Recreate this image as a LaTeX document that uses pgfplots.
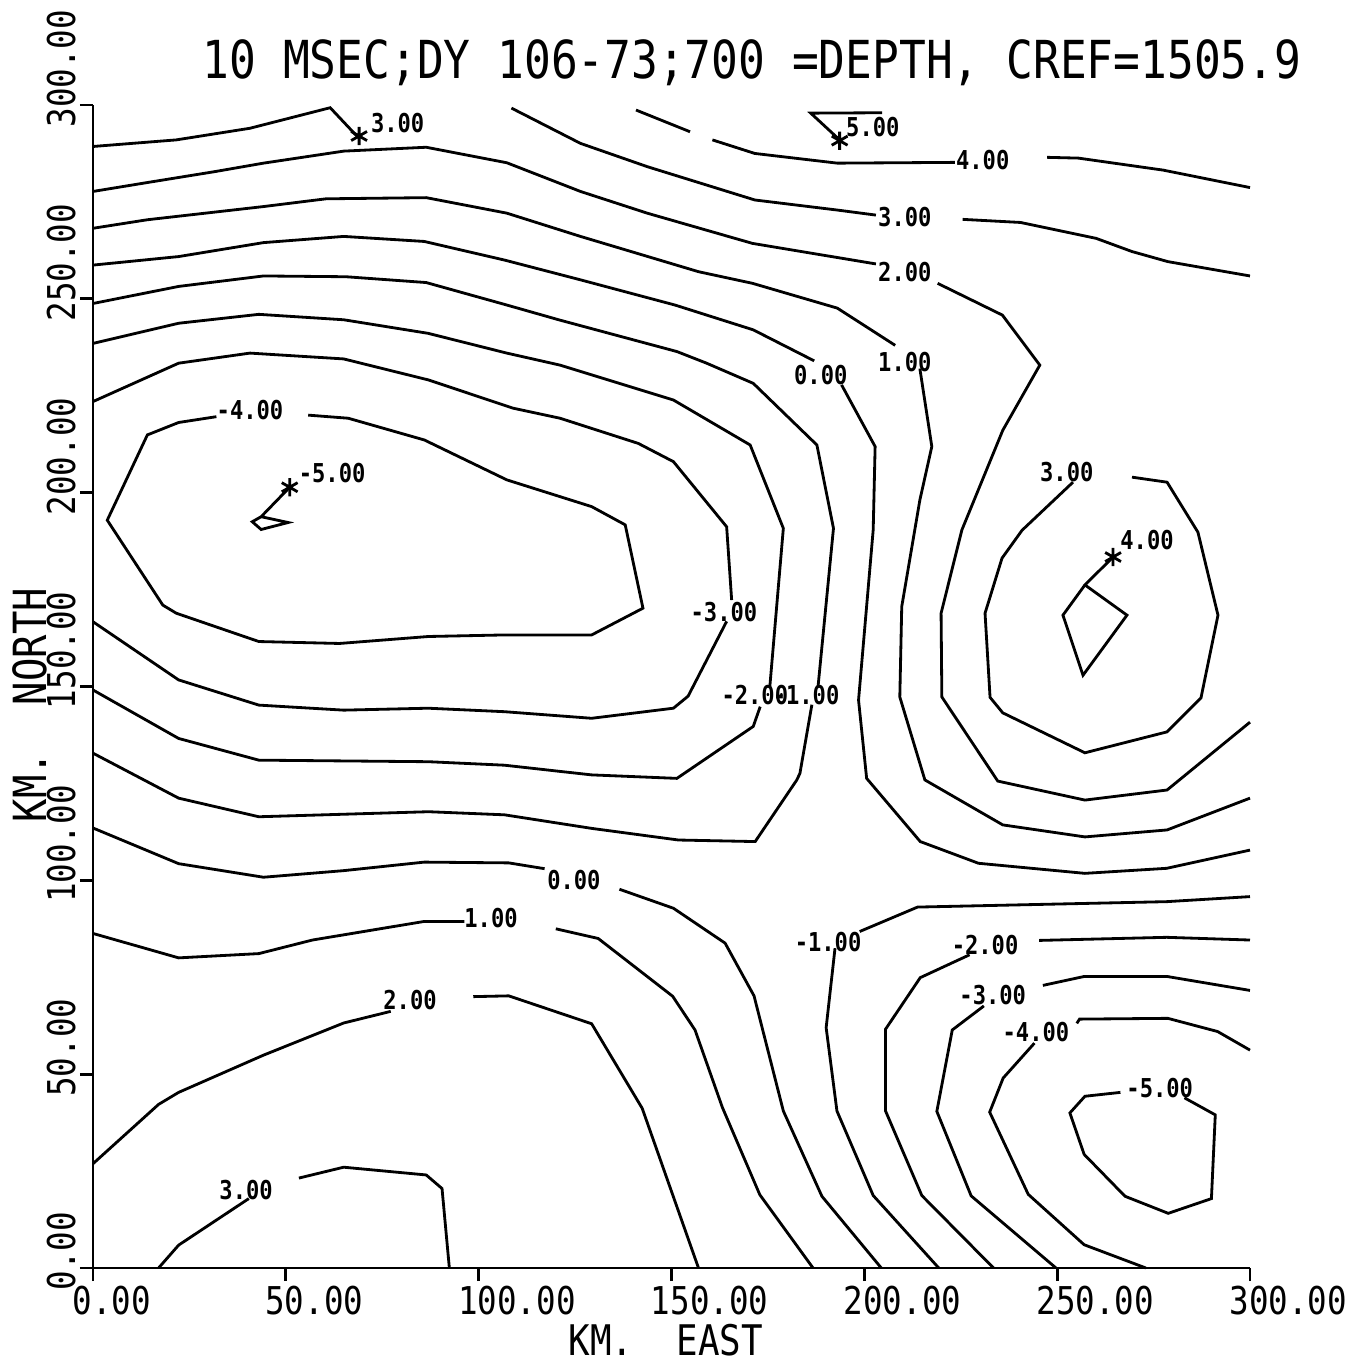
\documentclass[border=0pt]{standalone}
\usepackage{fontspec}
\setmainfont{DejaVu Sans Mono}[FakeStretch=0.85]
\usepackage{pgfplots}
\pgfplotsset{compat=1.18}
\pgfplotsset{cl/.style={black, line width=0.8pt, mark=none}}
\newcommand{\lbl}{\bfseries\fontsize{7.4}{8}\selectfont}
\begin{document}
\begin{tikzpicture}
\begin{axis}[
  at={(0,0)}, anchor=south west,
  scale only axis, width=115.7mm, height=116.3mm,
  xmin=0, xmax=300, ymin=0, ymax=300,
  axis lines=left, axis line style={-, line width=0.8pt},
  xtick={0,50,...,300}, ytick={0,50,...,300},
  xticklabels={0.00,50.00,100.00,150.00,200.00,250.00,300.00},
  yticklabels={0.00,50.00,100.00,150.00,200.00,250.00,300.00},
  tick align=outside, major tick length=1.3mm,
  tick style={line width=0.8pt, black},
  ticklabel style={font=\fontsize{10.9}{12}\selectfont},
  xticklabel style={anchor=north west, xshift=-3.3mm, yshift=0.7mm},
  yticklabel style={rotate=90, anchor=south west, xshift=-3.5mm, yshift=-0.8mm},
  clip=false,
]
% ---- upper part ----
\addplot[cl] coordinates {(0,289.3) (21.6,291.0) (40.7,294.0) (61.5,299.3) (68.5,291.9)};
\addplot[cl] coordinates {(108.5,299.2) (126.4,290.1) (143.7,284.1) (171.6,275.5) (193,272.9) (203,271.6)};
\addplot[cl] coordinates {(225.5,270.5) (240.5,269.7) (260.1,265.6) (269.4,262.2) (278.7,259.6) (300,255.9)};
\addplot[cl] coordinates {(140.8,298.7) (154.8,293.1)};
\addplot[cl] coordinates {(160.6,291.0) (171.6,287.5) (193,285) (223.5,285.2)};
\addplot[cl] coordinates {(247.4,286.5) (255.5,286.3) (277.5,283.2) (300,278.7)};
\addplot[cl] coordinates {(204.6,298.0) (186.1,297.9) (193.6,291.0)};
% 2.00
\addplot[cl] coordinates {(0,277.7) (14.1,280) (31.5,282.8) (44.2,285) (65,288.1) (86.4,289.1) (107.3,285.1) (126.4,277.7) (143.7,272.1) (171,264.3) (203,259)};
\addplot[cl] coordinates {(219,254) (235.8,245.8) (245.5,232.9) (235.9,216.1) (225.3,190.4) (219.9,168.9) (220.1,147.3) (234.6,125.6) (257.2,120.7) (278.5,123.3) (300,140.8)};
% 1.00
\addplot[cl] coordinates {(0,268.2) (14.1,270.4) (44.2,273.8) (60.4,275.8) (86.4,276.1) (107.3,272.1) (126.4,266.1) (157,257) (171,254) (193,247.6) (208,238)};
\addplot[cl] coordinates {(214.4,232) (217.5,211.9) (214.4,198.1) (209.7,170.6) (209.2,147.3) (215.7,125.9) (235.9,114.3) (257.2,111.2) (278.5,113) (300,121.2)};
% 0.00
\addplot[cl] coordinates {(0,258.7) (22.2,260.9) (44.2,264.5) (65,266.1) (85.9,264.8) (106.7,260) (126.4,254.9) (150.9,248.4) (171.2,242) (187,234)};
\addplot[cl] coordinates {(194.1,227.8) (202.8,211.9) (202.3,190.4) (198.5,146.5) (200.6,126.3) (214.5,110) (229.6,104.4) (257.2,101.8) (278.4,103.1) (300,107.8)};
% -1.00
\addplot[cl] coordinates {(0,248.8) (22.2,253.2) (44.2,255.9) (65.6,255.7) (86.4,254.2) (107.3,248.4) (121.1,244.5) (151.4,236.4) (159.1,233.4) (171.2,228.2) (187.7,212.3) (192,190.8) (188,150)};
\addplot[cl] coordinates {(186.4,145.3) (183.3,127.6) (182.5,125.9) (171.7,110) (151.8,110.4) (129.3,113.4) (106.7,116.9) (87,117.7) (43,116.4) (22.2,121.2) (0,132.8)};
% -2.00
\addplot[cl] coordinates {(0,238.5) (22.2,243.7) (43,246) (65,244.6) (86.9,241.1) (107.3,236) (121.1,232.9) (150.5,223.9) (170.4,212.3) (179,190.8) (175.5,150)};
\addplot[cl] coordinates {(173,144.8) (171.2,139.7) (151.4,126.3) (129.3,127.2) (121.1,128.1) (106.7,129.7) (87,130.6) (43,131) (22.2,136.6) (0,149.1)};
% -3.00
\addplot[cl] coordinates {(0,223.5) (22.2,233.4) (40.7,236) (65,234.5) (86.9,229.1) (108.9,221.8) (121.1,219.2) (141.4,212.7) (150.5,208) (164.3,191.2) (165.6,172.3)};
\addplot[cl] coordinates {(164.3,166.8) (154.3,147.5) (150.5,144.4) (129.3,141.8) (106.7,143.5) (86.9,144.4) (65,143.9) (43,145.2) (22.2,151.7) (0,166.7)};
% -4.00 loop
\addplot[cl] coordinates {(55.8,220) (66.2,219.2) (85.9,213.6) (107.3,203.3) (129.3,196.4) (138,191.7) (142.6,170.2) (129.3,163.3) (106.7,163.3) (87,162.9) (63.9,161.1) (43,161.6) (21.6,168.9) (18.1,171) (3.7,192.9) (14.1,214.9) (22.2,218.1) (32,219.6)};
% -5.00
\addplot[cl] coordinates {(51,201.4) (43.6,193.8) (41.3,192.5) (43.6,190.5) (50.6,192.3) (43.6,193.8)};
% 3.00 right loop
\addplot[cl] coordinates {(254.1,202.7) (240.9,190.3) (235.7,183.1) (231.3,168.9) (232.6,147.2) (235.9,143.2) (257.2,132.9) (278.5,138.3) (287.3,147.1) (291.7,168.4) (286.5,189.8) (278.5,202.7) (269.4,204)};
% 4.00 diamond
\addplot[cl] coordinates {(264.5,183.4) (257.2,176.2) (268.1,168.4) (256.7,152.9) (251.5,168.4) (257.2,176.2)};
% ---- lower part ----
\addplot[cl] coordinates {(0,113.5) (22.2,104.3) (44.2,100.8) (65,102.5) (85.9,104.7) (107.8,104.5) (117.1,103)};
\addplot[cl] coordinates {(136.5,97.7) (150.5,92.8) (163.9,83.8) (171.4,70.2) (179,40.5) (189,18.5) (204.4,0)};
\addplot[cl] coordinates {(0,86.3) (22.2,80) (43,81.1) (56.9,84.6) (85.9,89.4) (96.3,89.4)};
\addplot[cl] coordinates {(120,87.5) (131,85) (150.3,70.1) (156.1,61.4) (163.2,41.4) (172.9,18.9) (186.7,0)};
\addplot[cl] coordinates {(0,26.9) (17,42.2) (22.2,45.3) (44.2,54.9) (65,63.2) (77.2,66.2)};
\addplot[cl] coordinates {(98.6,70) (107.8,70.2) (129.3,63) (142.4,41.2) (157,0)};
\addplot[cl] coordinates {(17,0) (22.2,5.9) (40.4,17.9)};
\addplot[cl] coordinates {(53.4,23.2) (65,26) (86.4,24) (90.5,20.5) (92.4,0)};
% right lower
\addplot[cl] coordinates {(198.8,86.8) (213.8,93.1) (278.4,94.5) (300,95.8)};
\addplot[cl] coordinates {(192.4,82.5) (190.1,62) (192.9,40.5) (202.3,18.7) (219.3,0)};
\addplot[cl] coordinates {(245.3,84.5) (278.4,85.3) (300,84.6)};
\addplot[cl] coordinates {(227.3,80.8) (214.5,74.9) (205.5,61.6) (205.5,40.5) (214.9,18.7) (233.5,0)};
\addplot[cl] coordinates {(246.3,72.9) (257,75.2) (278.5,75.2) (300,71.6)};
\addplot[cl] coordinates {(231,67.6) (222.8,61.4) (218.8,40.4) (227.7,18.6) (249.7,0)};
\addplot[cl] coordinates {(255.1,63.1) (255.8,64.2) (278.7,64.4) (291.6,61) (300,56.2)};
\addplot[cl] coordinates {(244.1,58) (236,49) (232.5,40.2) (242.5,19) (257,6) (273,0)};
\addplot[cl] coordinates {(266.4,45.3) (257.2,44.3) (253.3,40) (257,29.3) (267.6,18.5) (278.8,14.1) (290,17.9) (291,39.5) (283,43.9)};
% star markers
\addplot[only marks, black, mark=asterisk, mark size=2.6pt, line width=0.8pt] coordinates {(69,292) (193.6,290.8) (51,201.4) (264.5,183.4)};
% contour labels
\node[font=\lbl] at (axis cs:79,295.3) {3.00};
\node[font=\lbl] at (axis cs:202.2,294.3) {5.00};
\node[font=\lbl] at (axis cs:230.7,285.8) {4.00};
\node[font=\lbl] at (axis cs:210.5,271.1) {3.00};
\node[font=\lbl] at (axis cs:210.5,256.9) {2.00};
\node[font=\lbl] at (axis cs:210.5,233.7) {1.00};
\node[font=\lbl] at (axis cs:188.7,230.3) {0.00};
\node[font=\lbl] at (axis cs:40.7,221.3) {-4.00};
\node[font=\lbl] at (axis cs:62,205.1) {-5.00};
\node[font=\lbl] at (axis cs:252.5,205.3) {3.00};
\node[font=\lbl] at (axis cs:273.3,187.8) {4.00};
\node[font=\lbl] at (axis cs:163.6,169.2) {-3.00};
\node[font=\lbl] at (axis cs:171.6,147.8) {-2.00};
\node[font=\lbl] at (axis cs:184.9,147.8) {-1.00};
\node[font=\lbl] at (axis cs:124.7,100.1) {0.00};
\node[font=\lbl] at (axis cs:103.2,90.3) {1.00};
\node[font=\lbl] at (axis cs:82.2,69.1) {2.00};
\node[font=\lbl] at (axis cs:39.7,20.1) {3.00};
\node[font=\lbl] at (axis cs:190.6,84.1) {-1.00};
\node[font=\lbl] at (axis cs:231.3,83.3) {-2.00};
\node[font=\lbl] at (axis cs:233.3,70.4) {-3.00};
\node[font=\lbl] at (axis cs:244.5,60.9) {-4.00};
\node[font=\lbl] at (axis cs:276.6,46.4) {-5.00};
% titles
\node[font=\fontsize{14.9}{16}\selectfont] at (rel axis cs:0.5696,1.036) {10 MSEC;DY 106-73;700 =DEPTH, CREF=1505.9};
\node[font=\fontsize{12}{13}\selectfont, inner sep=0pt, anchor=base] at (rel axis cs:0.495,-0.0756) {KM.\ \ EAST};
\node[font=\fontsize{13}{14}\selectfont, rotate=90] at (rel axis cs:-0.0545,0.484) {KM.\ \ NORTH};
\end{axis}
\pgfresetboundingbox
\path (-9.3mm,-9.4mm) rectangle (125.7mm,126.8mm);
\end{tikzpicture}
\end{document}
